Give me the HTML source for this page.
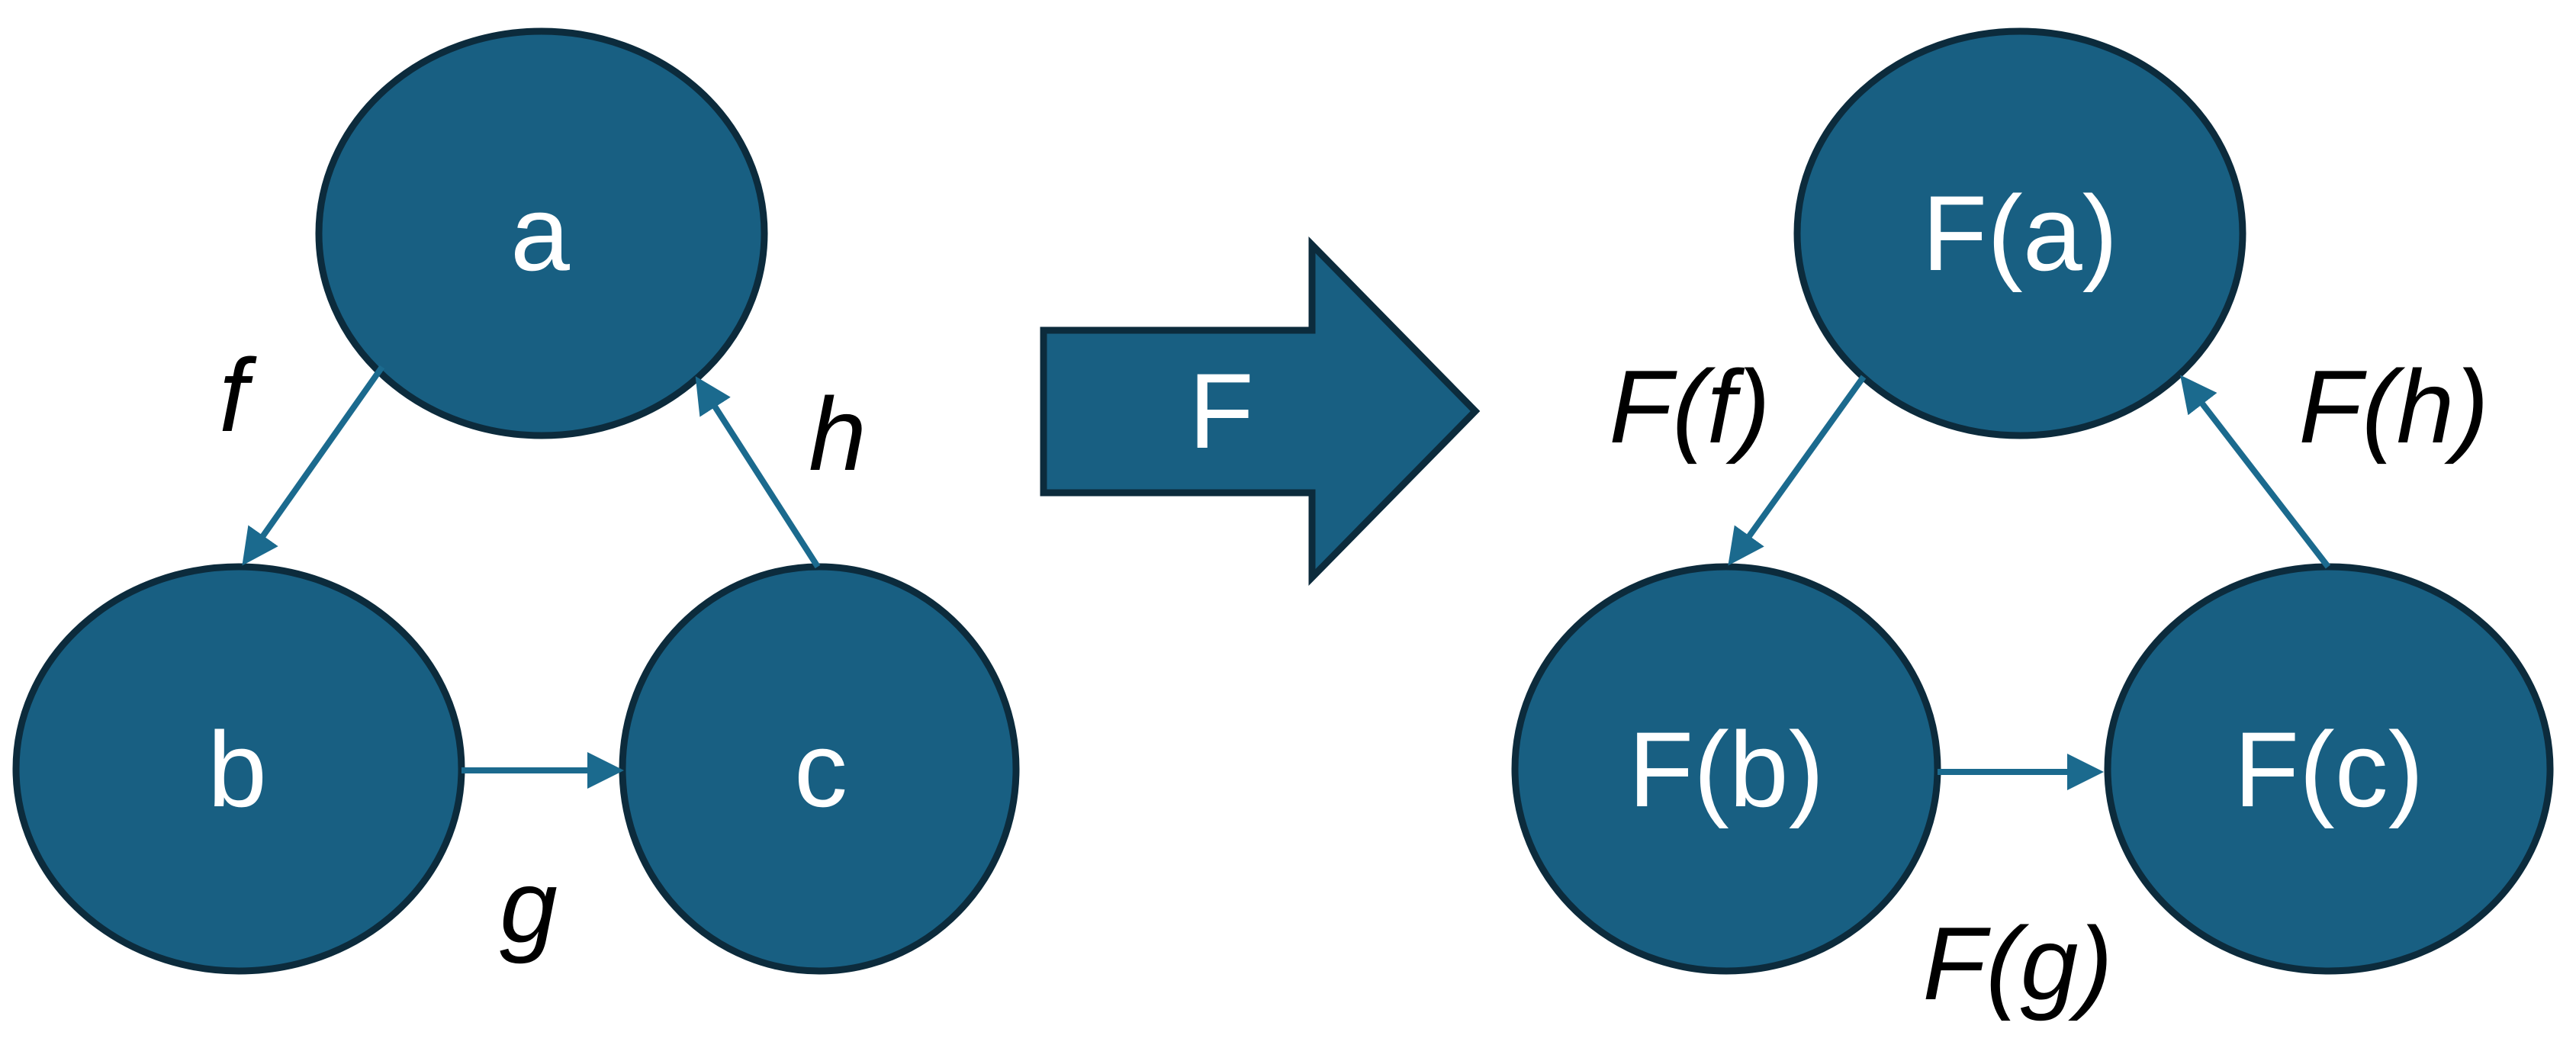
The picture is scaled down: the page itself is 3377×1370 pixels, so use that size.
<!DOCTYPE html>
<html><head><meta charset="utf-8"><style>html,body{margin:0;padding:0;background:#fff}svg{display:block}</style></head>
<body>
<svg width="3377" height="1370" viewBox="0 0 3377 1370" xmlns="http://www.w3.org/2000/svg">
<defs>
<marker id="ah" markerWidth="6" markerHeight="6" refX="5" refY="3" orient="auto" markerUnits="strokeWidth">
<path d="M0,0 L6,3 L0,6 z" fill="#1b6a8e"/>
</marker>
</defs>
<g fill="#185f82" stroke="#0c2b3c" stroke-width="9">
<ellipse cx="710" cy="306" rx="292" ry="265"/>
<ellipse cx="313" cy="1008" rx="292" ry="265"/>
<ellipse cx="1074" cy="1008" rx="258" ry="265"/>
<path d="M1368,433 L1720,433 L1720,321 L1934,539 L1720,757 L1720,646 L1368,646 Z"/>
<ellipse cx="2648" cy="306" rx="292" ry="265"/>
<ellipse cx="2263" cy="1008" rx="277" ry="265"/>
<ellipse cx="3053" cy="1008" rx="290" ry="265"/>
</g>
<g stroke="#1b6a8e" stroke-width="8" fill="none" marker-end="url(#ah)">
<line x1="501" y1="481" x2="322" y2="735"/>
<line x1="605" y1="1010" x2="810" y2="1010"/>
<line x1="1072" y1="743" x2="916" y2="500"/>
<line x1="2443" y1="494" x2="2270" y2="735"/>
<line x1="2540" y1="1012" x2="2750" y2="1012"/>
<line x1="3052" y1="743" x2="2863" y2="498"/>
</g>
<g font-family="Liberation Sans, sans-serif" font-size="140" fill="#fff" text-anchor="middle">
<text x="708" y="354">a</text>
<text x="311" y="1057">b</text>
<text x="1076" y="1057">c</text>
<text x="1601" y="587">F</text>
<text x="2648" y="354">F(a)</text>
<text x="2263" y="1057">F(b)</text>
<text x="3053" y="1057">F(c)</text>
</g>
<g font-family="Liberation Sans, sans-serif" font-size="136" font-style="italic" fill="#000" text-anchor="middle">
<text x="306" y="565">f</text>
<text x="1098" y="616">h</text>
<text x="693" y="1235">g</text>
<text x="2215" y="580">F(f)</text>
<text x="3138" y="580">F(h)</text>
<text x="2645" y="1310">F(g)</text>
</g>
</svg>
</body></html>
